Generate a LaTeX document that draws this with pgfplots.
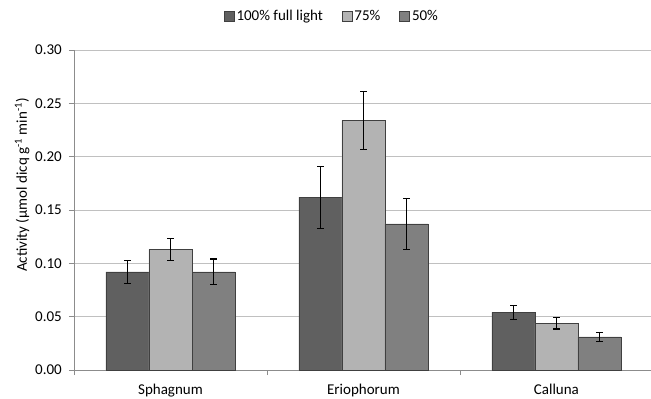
\documentclass[border=0pt]{standalone}
\usepackage{pgfplots}
\pgfplotsset{compat=1.18}
\usepackage{fontspec}
\setmainfont{Carlito}
\definecolor{cdark}{HTML}{606060}
\definecolor{clight}{HTML}{B3B3B3}
\definecolor{cmed}{HTML}{808080}
\definecolor{cgrid}{HTML}{C0C0C0}
\definecolor{caxis}{HTML}{8C8C8C}
\begin{document}
\fontsize{15}{18}\selectfont
\begin{tikzpicture}
\path[use as bounding box] (0pt,0pt) rectangle (651pt,399pt);
\begin{axis}[
  at={(74pt,29pt)}, anchor=south west,
  width=577pt, height=320pt, scale only axis,
  font=\fontsize{15}{18}\selectfont,
  ybar=0pt, bar width=0.223,
  xmin=-0.5, xmax=2.49,
  ymin=0, ymax=0.30,
  ytick={0,0.05,...,0.30},
  yticklabel style={/pgf/number format/fixed, /pgf/number format/precision=2, /pgf/number format/fixed zerofill, /pgf/number format/assume math mode=true},
  xtick={0,1,2},
  xticklabels={Sphagnum, Eriophorum, Calluna},
  major x tick style={draw=none},
  minor xtick={-0.5,0.5,1.5},
  minor x tick style={draw=caxis, line width=0.8pt},
  minor tick length=5pt,
  major tick length=5pt,
  tick align=outside,
  tick pos=left,
  y tick style={draw=caxis, line width=0.8pt},
  axis lines*=left,
  axis line style={draw=caxis, line width=0.8pt},
  ymajorgrids, grid style={draw=cgrid, line width=0.9pt},
  xticklabel style={yshift=-4pt},
  yticklabel style={xshift=-2pt},
  ylabel={Activity (µmol dicq g\textsuperscript{-1} min\textsuperscript{-1})},
  ylabel style={at={(axis description cs:-0.09,0.578)}, anchor=center, rotate=0},
  legend columns=3,
  legend style={at={(axis description cs:0.447,1.106)}, anchor=center, draw=none, fill=none, /tikz/every even column/.append style={column sep=17pt}},
  legend image code/.code={\draw[#1] (0pt,-5pt) rectangle (10pt,5pt);},
  error bars/y dir=both, error bars/y explicit,
  error bars/error bar style={black, line width=1.2pt},
  error bars/error mark options={rotate=90, mark size=3.4pt, line width=1.2pt, black},
]
\addplot[fill=cdark, draw=black!75, line width=0.6pt] coordinates {(0,0.092) +- (0,0.011) (1,0.162) +- (0,0.029) (2,0.054) +- (0,0.0068)};
\addplot[fill=clight, draw=black!75, line width=0.6pt] coordinates {(0,0.113) +- (0,0.010) (1,0.234) +- (0,0.027) (2,0.044) +- (0,0.0055)};
\addplot[fill=cmed, draw=black!75, line width=0.6pt] coordinates {(0,0.092) +- (0,0.012) (1,0.137) +- (0,0.024) (2,0.031) +- (0,0.004)};
\legend{100\% full light, 75\%, 50\%}
\end{axis}
\end{tikzpicture}
\end{document}
